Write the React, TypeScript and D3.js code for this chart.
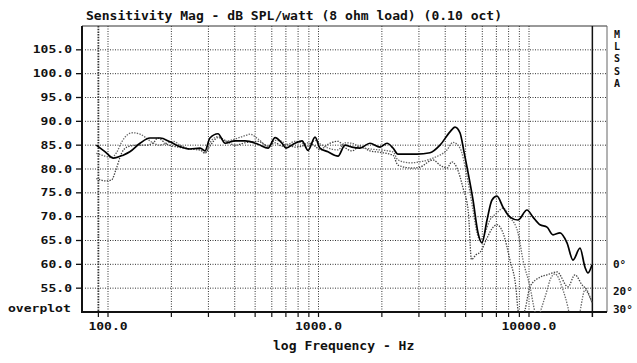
import React from "react";
import * as d3 from "d3";

// ---- data (frequency Hz, dB SPL) ----
const onAxis: [number, number][] = [
  [88, 85.0], [97, 83.6], [106, 82.3], [118, 82.9], [127, 83.6], [142, 85.4], [158, 86.5], [177, 86.5],
  [197, 85.7], [220, 84.7], [245, 84.2], [274, 84.4], [289, 83.8], [305, 86.5], [333, 87.4], [360, 85.4],
  [401, 85.9], [448, 85.9], [516, 85.2], [576, 84.4], [622, 86.6], [671, 85.4], [701, 84.4], [773, 85.4],
  [835, 85.9], [892, 83.9], [963, 86.7], [1016, 84.4], [1109, 83.6], [1238, 82.7], [1336, 85.0], [1442, 84.6],
  [1574, 84.4], [1756, 85.4], [1960, 84.6], [2116, 85.4], [2259, 84.4], [2386, 83.1], [2937, 83.1], [3386, 83.4],
  [3777, 85.0], [4214, 87.8], [4451, 88.8], [4700, 87.6], [4912, 83.6], [5075, 80.4], [5420, 73.5], [5725, 66.6],
  [5980, 64.5], [6318, 69.3], [6672, 73.5], [7047, 74.3], [7523, 72.0], [8121, 69.9], [8867, 69.3], [9783, 71.4],
  [10447, 69.9], [11281, 68.3], [12176, 67.8], [13002, 66.2], [14040, 66.6], [15155, 64.5], [16181, 60.9],
  [17472, 63.4], [18450, 59.4], [19070, 58.2], [19923, 59.9],
];

const offAxis20: [number, number][] = [
  [88, 83.3], [97, 82.7], [104, 82.4], [110, 83.5], [116, 85.6], [123, 87.1], [131, 87.6], [142, 87.3],
  [152, 86.5], [162, 85.6], [175, 85.0], [190, 85.4], [205, 85.8], [220, 85.0], [245, 84.2], [274, 84.0],
  [289, 83.4], [305, 85.5], [333, 86.8], [360, 85.8], [401, 86.3], [448, 87.0], [473, 87.3], [516, 86.3],
  [576, 84.8], [622, 86.0], [671, 85.8], [701, 85.0], [773, 85.8], [835, 85.5], [892, 84.8], [963, 86.0],
  [1016, 85.3], [1109, 84.4], [1238, 84.0], [1336, 85.5], [1442, 85.4], [1574, 84.6], [1756, 84.2], [1960, 84.0],
  [2259, 83.6], [2386, 81.9], [2721, 81.3], [3035, 81.5], [3499, 82.3], [4077, 84.0], [4355, 85.6], [4700, 84.4],
  [5075, 78.5], [5420, 71.4], [5662, 66.6], [5851, 65.1], [6045, 65.7], [6528, 69.3], [7047, 70.8], [7523, 71.8],
  [8121, 69.9], [8867, 66.6], [9366, 60.9], [10111, 55.3], [10679, 50.0], [11036, 48.5], [11403, 50.5],
  [12176, 54.5], [12587, 56.7], [13291, 58.0], [14508, 54.6], [15311, 51.0], [15660, 49.0], [17093, 49.0],
  [18450, 54.6], [19491, 53.0], [19923, 52.0],
];

const offAxis30: [number, number][] = [
  [88, 78.0], [98, 77.5], [104, 77.7], [109, 79.8], [116, 83.3], [123, 84.6], [138, 85.0], [152, 85.0],
  [165, 85.6], [172, 86.5], [190, 85.2], [215, 84.6], [245, 84.2], [274, 84.0], [289, 83.3], [305, 84.8],
  [333, 86.6], [360, 86.0], [401, 85.0], [448, 85.5], [516, 85.8], [576, 84.8], [622, 85.5], [671, 84.8],
  [701, 85.2], [773, 84.6], [835, 84.8], [892, 85.5], [963, 84.8], [1016, 84.0], [1109, 85.2], [1238, 85.8],
  [1336, 84.5], [1442, 83.8], [1574, 84.8], [1756, 83.8], [1960, 83.5], [2259, 82.9], [2386, 80.8], [2800, 80.2],
  [3035, 80.4], [3499, 81.9], [3777, 80.8], [4077, 80.2], [4300, 81.5], [4550, 80.2], [4860, 76.0], [5150, 71.0],
  [5330, 61.0], [5600, 62.0], [5851, 62.5], [6318, 65.5], [6672, 67.5], [7047, 68.3], [7523, 66.6], [8121, 60.9],
  [8690, 54.6], [8867, 50.4], [9164, 48.5], [9575, 50.5], [10111, 55.3], [11281, 57.3], [12176, 57.8],
  [13584, 58.4], [15311, 55.3], [16540, 57.8], [17857, 55.7], [18861, 54.6], [19923, 52.0],
];

const yTicks = [55, 60, 65, 70, 75, 80, 85, 90, 95, 100, 105];
const yTickLabels = ["55.0", "60.0", "65.0", "70.0", "75.0", "80.0", "85.0", "90.0", "95.0", "100.0", "105.0"];
const xGrid = [90, 100, 200, 300, 400, 500, 600, 700, 800, 900, 1000, 2000, 3000, 4000, 5000, 6000, 7000, 8000, 9000, 10000];
const xLabelValues = [100, 1000, 10000];
const xLabels = ["100.0", "1000.0", "10000.0"];
const endFreq = 20000;
const titleText = "Sensitivity Mag - dB SPL/watt (8 ohm load) (0.10 oct)";
const xAxisTitle = "log Frequency - Hz";
const sideLetters = ["M", "L", "S", "S", "A"];
const legendLabels = ["0°", "20°", "30°"];

// ---- layout ----
const W = 637, H = 363;
const L = 82, R = 607, T = 26, B = 312;
const FONT = "'DejaVu Sans Mono', monospace";
const CW = 7.85; // char width of the plotter font

const x = d3.scaleLog().domain([100, 10000]).range([108, 529]);
const y = d3.scaleLinear().domain([50, 110]).range([B, T]);

const line = d3
  .line<[number, number]>()
  .x((d) => x(d[0]))
  .y((d) => y(d[1]))
  .curve(d3.curveMonotoneX);

export default function App() {
  return (
    <svg
      width={W}
      height={H}
      viewBox={`0 0 ${W} ${H}`}
      style={{ position: "absolute", left: 0, top: 0, background: "#fff" }}
    >
      <defs>
        <clipPath id="plot">
          <rect x={L} y={T} width={R - L} height={B - T} />
        </clipPath>
      </defs>
      <rect x={0} y={0} width={W} height={H} fill="#fff" />

      {/* title */}
      <text x={86} y={20} fontFamily={FONT} fontWeight="bold" fontSize={13} textLength={titleText.length * CW} lengthAdjust="spacingAndGlyphs" fill="#111">
        {titleText}
      </text>

      {/* horizontal grid */}
      {yTicks.map((v) => (
        <g key={"y" + v}>
          <line x1={L + 3} x2={R} y1={y(v)} y2={y(v)} stroke="#333" strokeWidth={1} strokeDasharray="1,1.5" />
          <line x1={L - 6} x2={L} y1={y(v)} y2={y(v)} stroke="#111" strokeWidth={1.3} />
        </g>
      ))}

      {/* vertical grid */}
      {xGrid.map((f) => (
        <g key={"x" + f}>
          <line x1={x(f)} x2={x(f)} y1={T} y2={B} stroke="#333" strokeWidth={f === 90 ? 1.8 : 1} strokeDasharray={f === 90 ? "1.5,1.2" : "1,1.5"} />
          <line x1={x(f)} x2={x(f)} y1={B} y2={B + 5} stroke="#111" strokeWidth={1.2} />
        </g>
      ))}

      {/* frame */}
      <line x1={L} x2={R} y1={T} y2={T} stroke="#333" strokeWidth={1} />
      <line x1={R} x2={R} y1={T} y2={B} stroke="#666" strokeWidth={1} />
      <line x1={L} x2={L} y1={T} y2={B + 1} stroke="#111" strokeWidth={2} />
      <line x1={L} x2={R} y1={B} y2={B} stroke="#111" strokeWidth={2} />
      <line x1={x(endFreq)} x2={x(endFreq)} y1={T} y2={B + 5} stroke="#111" strokeWidth={1.5} />

      {/* curves */}
      <g clipPath="url(#plot)" fill="none">
        <path d={line(offAxis30) || ""} stroke="#444" strokeWidth={1.3} strokeDasharray="1.4,1.3" />
        <path d={line(offAxis20) || ""} stroke="#666" strokeWidth={1.3} strokeDasharray="1.4,1.3" />
        <path d={line(onAxis) || ""} stroke="#000" strokeWidth={1.7} />
      </g>

      {/* y labels */}
      {yTicks.map((v, i) => (
        <text key={"yl" + v} x={72} y={y(v) + 3.5} textAnchor="end" fontFamily={FONT} fontWeight="bold" fontSize={10} textLength={yTickLabels[i].length * CW} lengthAdjust="spacingAndGlyphs" fill="#111">
          {yTickLabels[i]}
        </text>
      ))}
      <text x={8} y={312} fontFamily={FONT} fontWeight="bold" fontSize={10} textLength={8 * CW} lengthAdjust="spacingAndGlyphs" fill="#111">
        overplot
      </text>

      {/* x labels */}
      {xLabelValues.map((f, i) => (
        <text key={"xl" + f} x={x(f)} y={330} textAnchor="middle" fontFamily={FONT} fontWeight="bold" fontSize={10} textLength={xLabels[i].length * CW} lengthAdjust="spacingAndGlyphs" fill="#111">
          {xLabels[i]}
        </text>
      ))}
      <text x={273} y={350} fontFamily={FONT} fontWeight="bold" fontSize={13} textLength={xAxisTitle.length * CW} lengthAdjust="spacingAndGlyphs" fill="#111">
        {xAxisTitle}
      </text>

      {/* MLSSA */}
      {sideLetters.map((c, i) => (
        <text key={"s" + i} x={617} y={38 + i * 12.2} textAnchor="middle" fontFamily={FONT} fontWeight="bold" fontSize={10} fill="#111">
          {c}
        </text>
      ))}

      {/* legend */}
      {legendLabels.map((t, i) => (
        <text key={"lg" + i} x={613} y={[268, 295, 313][i]} fontFamily={FONT} fontWeight="bold" fontSize={11} fill="#111">
          {t}
        </text>
      ))}
    </svg>
  );
}
